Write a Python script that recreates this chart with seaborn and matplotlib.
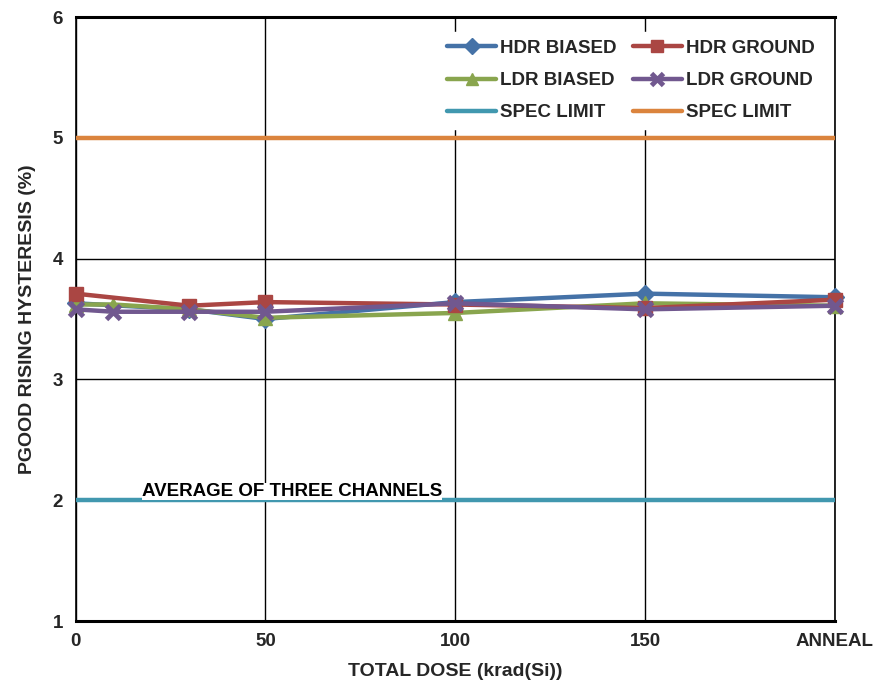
import matplotlib
matplotlib.use("Agg")
import matplotlib.pyplot as plt
import seaborn as sns
import pandas as pd

# ---- data ----
hdr_dose = [0, 30, 50, 100, 150, 200]
ldr_dose = [0, 10, 30, 50, 100, 150, 200]
hdr_biased = [3.63, 3.58, 3.50, 3.64, 3.71, 3.68]
hdr_ground = [3.71, 3.61, 3.64, 3.62, 3.59, 3.66]
ldr_biased = [3.62, 3.62, 3.58, 3.51, 3.55, 3.63, 3.61]
ldr_ground = [3.58, 3.56, 3.56, 3.56, 3.63, 3.58, 3.61]
spec_x = [0, 200]
spec_low = [2, 2]
spec_high = [5, 5]
xtick_pos = [0, 50, 100, 150, 200]
xtick_labels = ["0", "50", "100", "150", "ANNEAL"]
ytick_pos = [1, 2, 3, 4, 5, 6]

sns.set_theme(style="white")
plt.rcParams['font.family'] = ['Liberation Sans', 'DejaVu Sans']
plt.rcParams['font.weight'] = 'bold'

fig = plt.figure(figsize=(8.73, 6.86), dpi=100)
ax = fig.add_axes([75.5 / 873, 65 / 686, (835 - 75.5) / 873, (621 - 17) / 686])

series = [
    ("HDR BIASED", hdr_dose, hdr_biased, "#4572A7", "D", 9, 1.0),
    ("LDR BIASED", ldr_dose, ldr_biased, "#89A54E", "^", 10, 1.0),
    ("HDR GROUND", hdr_dose, hdr_ground, "#AA4643", "s", 10, 1.0),
    ("LDR GROUND", ldr_dose, ldr_ground, "#71588F", "x", 10, 3.5),
]

for name, xs, ys, col, mk, ms, mew in series:
    df = pd.DataFrame({"x": xs, "y": ys})
    sns.lineplot(data=df, x="x", y="y", ax=ax, color=col, linewidth=3.2,
                 marker=mk, markersize=ms, markeredgecolor=col,
                 markeredgewidth=mew,
                 markerfacecolor=col, label=name, zorder=4, clip_on=False)

df_low = pd.DataFrame({"x": spec_x, "y": spec_low})
df_high = pd.DataFrame({"x": spec_x, "y": spec_high})
sns.lineplot(data=df_low, x="x", y="y", ax=ax, color="#4198AF", linewidth=3.2,
             label="SPEC LIMIT", zorder=3)
sns.lineplot(data=df_high, x="x", y="y", ax=ax, color="#DB843D", linewidth=3.2,
             label="SPEC LIMIT", zorder=3)

ax.text(57, 2.003, "AVERAGE OF THREE CHANNELS", ha="center", va="bottom",
        fontsize=13.5, fontweight="bold", color="black", zorder=5,
        bbox=dict(facecolor="white", edgecolor="none", pad=0.0))

ax.set_xlim(0, 200)
ax.set_ylim(1, 6)
ax.set_xticks(xtick_pos)
ax.set_xticklabels(xtick_labels)
ax.set_yticks(ytick_pos)
ax.tick_params(axis="both", labelsize=13.5, length=0, pad=9)
for lab in ax.get_xticklabels() + ax.get_yticklabels():
    lab.set_fontweight("bold")
ax.grid(True, color="black", linewidth=1.0)
ax.set_axisbelow(True)
for s in ["left", "right"]:
    ax.spines[s].set_color("black")
    ax.spines[s].set_linewidth(1.2)
for s in ["top", "bottom"]:
    ax.spines[s].set_color("black")
    ax.spines[s].set_linewidth(2.2)

ax.set_xlabel("TOTAL DOSE (krad(Si))", fontsize=14, fontweight="bold", labelpad=9)
ax.set_ylabel("PGOOD RISING HYSTERESIS (%)", fontsize=14, fontweight="bold", labelpad=12)

h, l = ax.get_legend_handles_labels()
order = [0, 1, 4, 2, 3, 5]
leg = ax.legend([h[i] for i in order], [l[i] for i in order], ncol=2,
                loc="upper right", bbox_to_anchor=(0.995, 0.99),
                frameon=True, facecolor="white", edgecolor="white", framealpha=1,
                prop={"weight": "bold", "size": 13.5}, handlelength=2.6,
                columnspacing=0.9, labelspacing=0.8, handletextpad=0.2,
                markerscale=0.85)
leg.set_zorder(6)

fig.savefig("out.png", dpi=100)
